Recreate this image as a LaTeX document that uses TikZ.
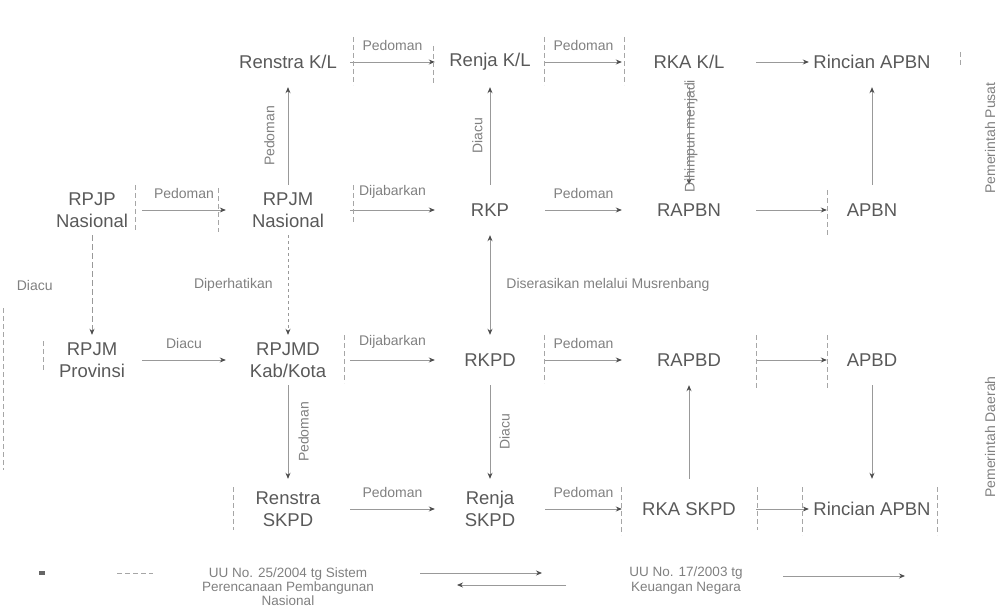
\documentclass[tikz,border=0pt]{standalone}
\usepackage{fontspec}
\setmainfont{Liberation Sans}
\usetikzlibrary{arrows.meta}
\newcommand{\tegak}[1]{\rotatebox{90}{#1}}
\begin{document}
\begin{tikzpicture}[x=1pt,y=-1pt,
  tahap/.style={minimum width=110pt, minimum height=50pt, inner sep=0pt, align=center,
    text=black!65, font=\fontsize{18.5}{22}\selectfont},
  panah/.style={draw=black!40, line width=0.8pt, -{Stealth[length=6pt,width=5pt,color=black!70]}},
  panahdua/.style={draw=black!40, line width=0.8pt, {Stealth[length=6pt,width=5pt,color=black!70]}-{Stealth[length=6pt,width=5pt,color=black!70]}},
  ket/.style={text=black!50, font=\fontsize{14}{16}\selectfont, inner sep=1pt},
  putus/.style={dash pattern=on 6pt off 3pt},
  sekat/.style={draw=black!35, line width=0.8pt, dash pattern=on 5pt off 3pt}]
\useasboundingbox (0,0) rectangle (1002,607);
%Pusat
\node[tahap, minimum width=124pt] (renstrakl) at (288,62) {Renstra K/L};
\node[tahap] (renjakl) at (490,62) {Renja K/L};
\node[tahap, minimum width=134pt] (rkakl) at (689,62) {RKA K/L};
\node[tahap, minimum width=126pt] (rincianapbn) at (872,62) {Rincian APBN};
\node[tahap, minimum width=100pt] (rpjpnas) at (92,210) {RPJP\\Nasional};
\node[tahap, minimum width=124pt] (rpjmnas) at (288,210) {RPJM\\Nasional};
\node[tahap] (rkp) at (490,210) {RKP};
\node[tahap, minimum width=134pt] (rapbn) at (689,210) {RAPBN};
\node[tahap, minimum width=90pt] (apbn) at (872,210) {APBN};
%Daerah
\node[tahap, minimum width=100pt] (rpjmprov) at (92,360) {RPJM\\Provinsi};
\node[tahap, minimum width=124pt] (rpjmd) at (288,360) {RPJMD\\Kab/Kota};
\node[tahap] (rkpd) at (490,360) {RKPD};
\node[tahap, minimum width=134pt] (rapbd) at (689,360) {RAPBD};
\node[tahap, minimum width=90pt] (apbd) at (872,360) {APBD};
\node[tahap, minimum width=124pt, minimum height=60pt] (renstraskpd) at (288,509) {Renstra\\SKPD};
\node[tahap, minimum height=60pt] (renjaskpd) at (490,509) {Renja\\SKPD};
\node[tahap, minimum width=134pt, minimum height=60pt] (rkaskpd) at (689,509) {RKA SKPD};
\node[tahap, minimum width=126pt, minimum height=60pt] (rincianapbd) at (872,509) {Rincian APBN};
%Samping
\node[ket] (pusat) at (990,138) {\tegak{Pemerintah Pusat}};
\node[ket] (daerah) at (990,437) {\tegak{Pemerintah Daerah}};
%Alur pusat
\draw[panah] (renstrakl) -- node[ket, above=10pt]{Pedoman} (renjakl);
\draw[panah] (renjakl) -- node[ket, above=10pt]{Pedoman} (rkakl);
\draw[panah] (rkakl) -- (rincianapbn);
\draw[panah] (rpjmnas) -- node[ket, left=12pt]{\tegak{Pedoman}} (renstrakl);
\draw[panah] (rkp) -- node[ket, left=6pt]{\tegak{Diacu}} (renjakl);
\draw[panah] (rkakl) -- node[ket, xshift=2pt]{\tegak{Dihimpun menjadi}} (rapbn);
\draw[panah] (apbn) -- (rincianapbn);
\draw[panah] (rpjpnas) -- node[ket, above=10pt]{Pedoman} (rpjmnas);
\draw[panah] (rpjmnas) -- node[ket, above=10pt]{Dijabarkan} (rkp);
\draw[panah] (rkp) -- node[ket, above=10pt]{Pedoman} (rapbn);
\draw[panah] (rapbn) -- (apbn);
%Pusat ke daerah
\draw[panah, putus] (rpjpnas) -- node[ket, left=38pt]{Diacu} (rpjmprov);
\draw[panah, dashed] (rpjmnas) -- node[ket, left=14pt]{Diperhatikan} (rpjmd);
\draw[panahdua] (rkp) -- node[ket, right=15pt]{Diserasikan melalui Musrenbang} (rkpd);
%Alur daerah
\draw[panah] (rpjmprov) -- node[ket, above=10pt]{Diacu} (rpjmd);
\draw[panah] (rpjmd) -- node[ket, above=10pt]{Dijabarkan} (rkpd);
\draw[panah] (rkpd) -- node[ket, above=10pt]{Pedoman} (rapbd);
\draw[panah] (rapbd) -- (apbd);
\draw[panah] (rpjmd) -- node[ket, right=9pt]{\tegak{Pedoman}} (renstraskpd);
\draw[panah] (rkpd) -- node[ket, right=8pt]{\tegak{Diacu}} (renjaskpd);
\draw[panah] (renstraskpd) -- node[ket, above=10pt]{Pedoman} (renjaskpd);
\draw[panah] (renjaskpd) -- node[ket, above=10pt]{Pedoman} (rkaskpd);
\draw[panah] (rkaskpd) -- (rapbd);
\draw[panah] (apbd) -- (rincianapbd);
\draw[panah] (rkaskpd) -- (rincianapbd);
%Sekat
\draw[sekat] (353,37) -- (353,85) (433,46) -- (433,83) (544,37) -- (544,85) (624,37) -- (624,85)
  (135,185) -- (135,232) (218,188) -- (218,232) (353,185) -- (353,222)
  (827,190) -- (827,236)
  (344,335) -- (344,383) (544,335) -- (544,383) (756,335) -- (756,388) (827,335) -- (827,388)
  (43,341) -- (43,372) (233,487) -- (233,530)
  (621,487) -- (621,535) (757,487) -- (757,530) (802,487) -- (802,535) (937,487) -- (937,535)
  (3,308) -- (3,470) (960,52) -- (960,67);
%Keterangan
\node[fill=black!60, minimum width=6pt, minimum height=4pt, inner sep=0pt] (tanda) at (42,573) {};
\coordinate (d1) at (117,573);
\coordinate (d2) at (153,573);
\draw[sekat] (d1) -- (d2);
\node[ket, align=center, font=\fontsize{13.5}{14}\selectfont] (uu25) at (288,587) {UU No. 25/2004 tg Sistem\\Perencanaan Pembangunan\\Nasional};
\coordinate (a1) at (420,573);
\coordinate (a2) at (542,573);
\draw[panah] (a1) -- (a2);
\coordinate (b1) at (566,585);
\coordinate (b2) at (457,585);
\draw[panah] (b1) -- (b2);
\node[ket, align=center, font=\fontsize{13.5}{15}\selectfont] (uu17) at (686,581) {UU No. 17/2003 tg\\Keuangan Negara};
\coordinate (c1) at (783,576);
\coordinate (c2) at (905,576);
\draw[panah] (c1) -- (c2);
\end{tikzpicture}
\end{document}
